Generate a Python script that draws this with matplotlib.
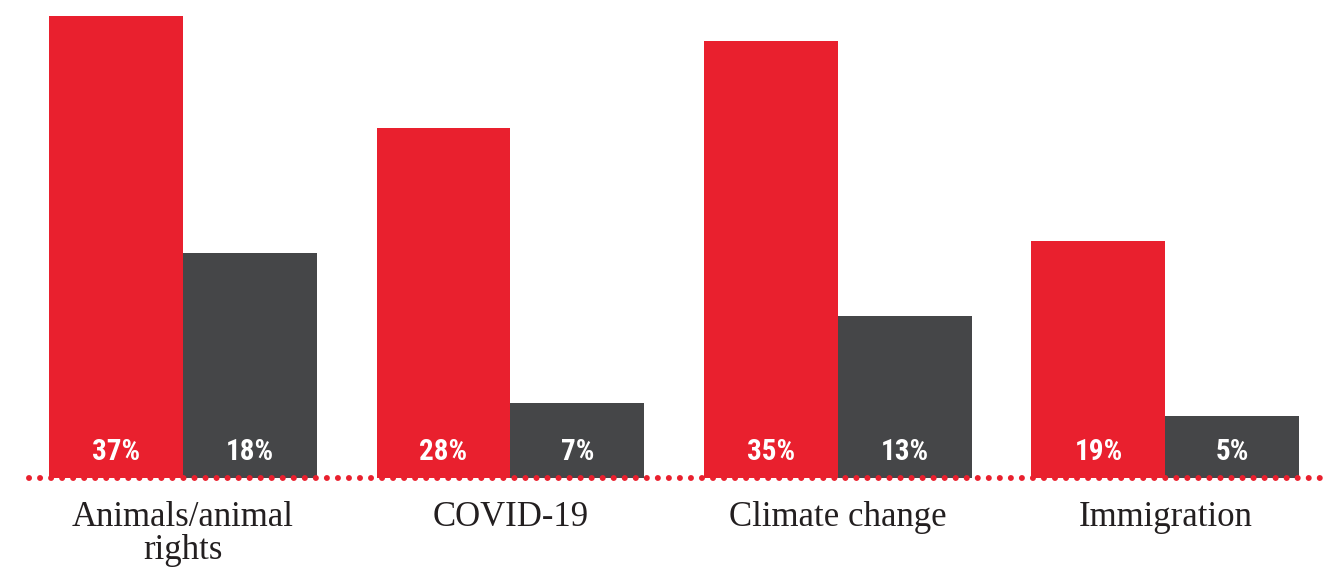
import matplotlib
matplotlib.use("Agg")
import matplotlib.pyplot as plt
from matplotlib import font_manager
import numpy as np

categories = ["Animals/animal\nrights", "COVID-19", "Climate change", "Immigration"]
red_values = [37, 28, 35, 19]
gray_values = [18, 6, 13, 5]
red_labels = ["37%", "28%", "35%", "19%"]
gray_labels = ["18%", "7%", "13%", "5%"]

RED = "#E9202E"
GRAY = "#454648"

names = {f.name for f in font_manager.fontManager.ttflist}
cond = None
for cand in ["Liberation Sans Narrow", "DejaVu Sans Condensed", "Roboto Condensed"]:
    if cand in names:
        cond = cand
        break
if cond is None:
    cond = "DejaVu Sans"

fig = plt.figure(figsize=(13.38, 5.68), dpi=100)
ax = fig.add_axes([0, 0, 1, 1])
ppu = 12.49  # pixels per percentage point
ax.set_ylim(-(568 - 478) / ppu, 478 / ppu)
pitch = 327.5
ax.set_xlim(-183 / pitch, (1338 - 183) / pitch)
ax.axis("off")

x = np.arange(len(categories))
w = 134 / pitch
ax.bar(x - w / 2, red_values, width=w, color=RED, zorder=2)
ax.bar(x + w / 2, gray_values, width=w, color=GRAY, zorder=2)

label_base = (478 - 460) / ppu
for i in range(len(categories)):
    ax.text(x[i] - w / 2, label_base, red_labels[i], ha="center", va="baseline",
            color="white", fontsize=21, fontweight="bold", family=cond, zorder=3)
    ax.text(x[i] + w / 2, label_base, gray_labels[i], ha="center", va="baseline",
            color="white", fontsize=21, fontweight="bold", family=cond, zorder=3)

# dotted baseline
x0 = (29 - 183) / pitch
x1 = (1330 - 183) / pitch
lw = 4.3
ax.plot([x0, x1], [0, 0], linestyle=(0, (0.01, 7.9 / lw)), dash_capstyle="round",
        color=RED, linewidth=lw, zorder=4)

for i, c in enumerate(categories):
    for k, line in enumerate(c.split("\n")):
        ax.text(x[i], -(526 + 33 * k - 478) / ppu, line, ha="center", va="baseline",
                color="#231F20", fontsize=25, family="Liberation Serif")

fig.savefig("out.png", dpi=100)
